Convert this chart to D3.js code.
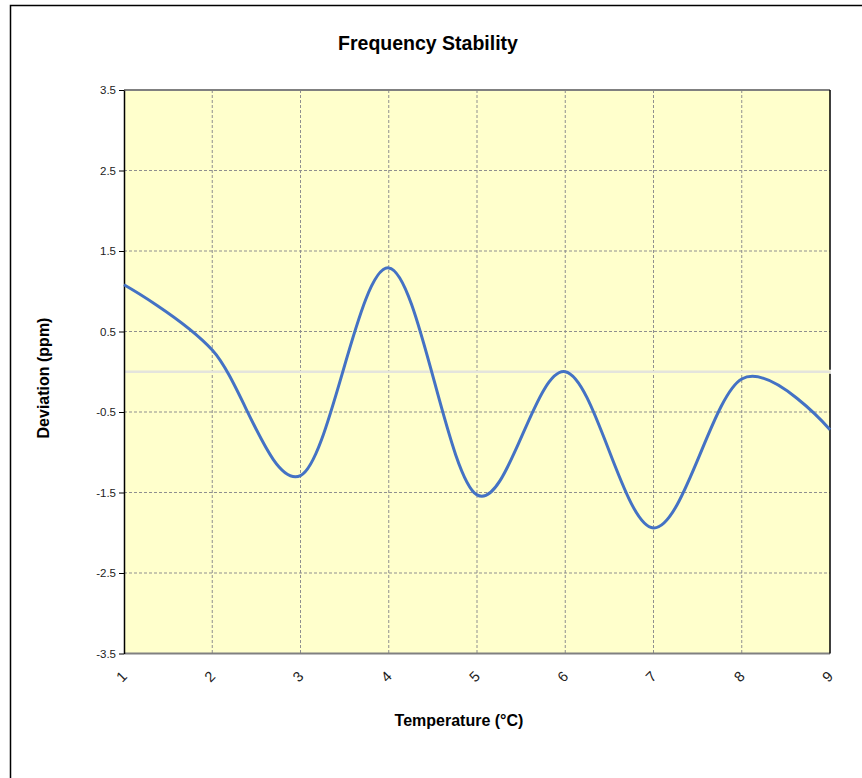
<!DOCTYPE html>
<html><head><meta charset="utf-8">
<script src="https://cdn.jsdelivr.net/npm/d3@7"></script>
<style>body{margin:0;background:#fff;}svg{display:block;font-family:Arial,"Liberation Sans",sans-serif;}</style>
</head><body>
<svg id="c" width="862" height="778"></svg>
<script>
const temperatures = [1, 2, 3, 4, 5, 6, 7, 8, 9];
const deviation = [1.08, 0.27, -1.29, 1.29, -1.53, 0.0, -1.94, -0.09, -0.72];
const yTicks = [-3.5, -2.5, -1.5, -0.5, 0.5, 1.5, 2.5, 3.5];
const xTicks = [1, 2, 3, 4, 5, 6, 7, 8, 9];

const svg = d3.select("#c");
const L = 124, R = 830, T = 90, B = 653.5;
const x = d3.scaleLinear().domain([1, 9]).range([L, R]);
const y = d3.scaleLinear().domain([-3.5, 3.5]).range([B, T]);

// outer frame
svg.append("rect").attr("x", 10.5).attr("y", 5.5).attr("width", 900).attr("height", 900)
  .attr("fill", "none").attr("stroke", "#000").attr("stroke-width", 1.5);

// plot bg
svg.append("rect").attr("x", L).attr("y", T).attr("width", R - L).attr("height", B - T).attr("fill", "#FFFFCC");

// grid
const g = svg.append("g");
g.selectAll(".gy").data(yTicks).join("line")
  .attr("x1", L).attr("x2", R).attr("y1", d => y(d)).attr("y2", d => y(d))
  .attr("stroke", "#8f8f8f").attr("stroke-width", 1).attr("stroke-dasharray", "3,2");
g.selectAll(".gx").data(xTicks.slice(1, -1)).join("line")
  .attr("x1", d => x(d)).attr("x2", d => x(d)).attr("y1", T).attr("y2", B)
  .attr("stroke", "#8f8f8f").attr("stroke-width", 1).attr("stroke-dasharray", "3,2");

// zero line
svg.append("line").attr("x1", L).attr("x2", R + 1).attr("y1", y(0)).attr("y2", y(0))
  .attr("stroke", "#e4e4dc").attr("stroke-width", 2.5);

// borders
svg.append("line").attr("x1", L).attr("x2", R).attr("y1", T).attr("y2", T).attr("stroke", "#808080").attr("stroke-width", 2);
svg.append("line").attr("x1", L).attr("x2", R).attr("y1", B).attr("y2", B).attr("stroke", "#808080").attr("stroke-width", 2);
svg.append("line").attr("x1", R).attr("x2", R).attr("y1", T).attr("y2", y(0) - 2).attr("stroke", "#000").attr("stroke-width", 1.5);
svg.append("line").attr("x1", R).attr("x2", R).attr("y1", y(0) + 2).attr("y2", B).attr("stroke", "#000").attr("stroke-width", 1.5);

// y axis
const ya = svg.append("g").attr("transform", `translate(${L},0)`)
  .call(d3.axisLeft(y).tickValues(yTicks).tickSize(5).tickSizeOuter(0).tickFormat(d => d.toFixed(1)));
ya.select(".domain").attr("stroke", "#000").attr("stroke-width", 1.5);
ya.selectAll(".tick line").attr("stroke", "#000");
ya.selectAll("text").attr("font-size", 11.5).attr("fill", "#222").attr("font-family", "Arial,'Liberation Sans',sans-serif").attr("x", -8);

// x axis labels
const xa = svg.append("g").attr("transform", `translate(0,${B})`)
  .call(d3.axisBottom(x).tickValues(xTicks).tickSize(0).tickFormat(d => String(d)));
xa.select(".domain").remove();
xa.selectAll("text").attr("font-size", 14.5).attr("fill", "#222")
  .attr("font-family", "Arial,'Liberation Sans',sans-serif")
  .attr("dy", "0.35em").attr("y", 0)
  .attr("text-anchor", "middle")
  .attr("transform", "translate(-3,23) rotate(-45)");

// line
svg.append("path").datum(temperatures.map((t, i) => [t, deviation[i]]))
  .attr("fill", "none").attr("stroke", "#4472C4").attr("stroke-width", 3)
  .attr("d", d3.line().x(d => x(d[0])).y(d => y(d[1])).curve(d3.curveCardinal.tension(0)));

// titles
svg.append("text").attr("x", 428).attr("y", 50).attr("text-anchor", "middle")
  .attr("font-size", 19.5).attr("font-weight", "bold").text("Frequency Stability");
svg.append("text").attr("x", 459).attr("y", 726).attr("text-anchor", "middle")
  .attr("font-size", 16).attr("font-weight", "bold").text("Temperature (°C)");
svg.append("text").attr("transform", `translate(49,378) rotate(-90)`).attr("text-anchor", "middle")
  .attr("font-size", 16).attr("font-weight", "bold").text("Deviation  (ppm)");
</script>
</body></html>
